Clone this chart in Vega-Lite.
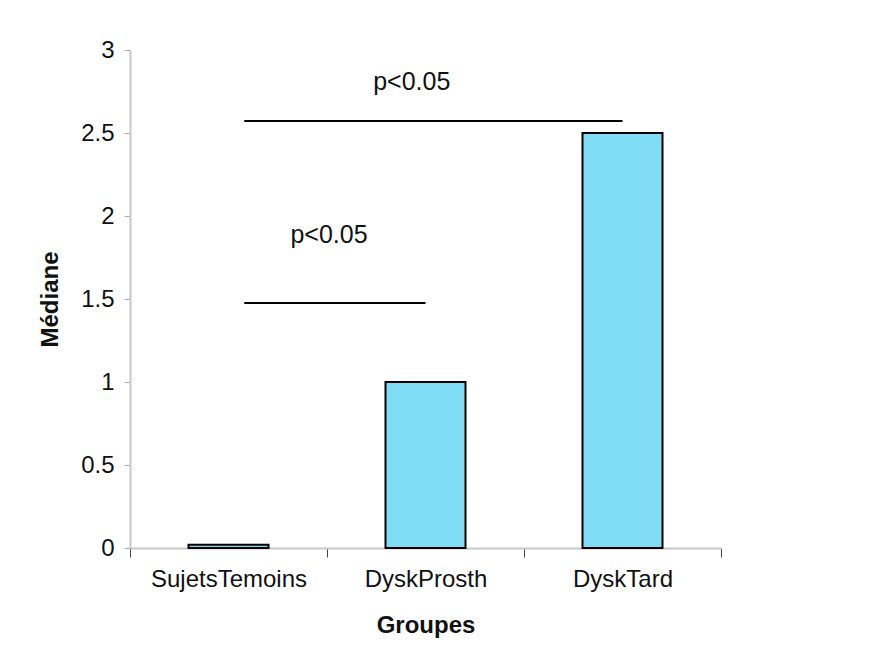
{
  "$schema": "https://vega.github.io/schema/vega-lite/v6.json",
  "width": 591,
  "height": 498,
  "autosize": {"type": "none"},
  "padding": {"left": 130, "top": 50, "right": 154, "bottom": 119},
  "background": "white",
  "config": {
    "view": {"stroke": null},
    "font": "Liberation Sans",
    "axis": {"labelFont": "Liberation Sans", "titleFont": "Liberation Sans", "labelColor": "#111", "titleColor": "#111"}
  },
  "layer": [
    {
      "data": {
        "values": [
          {"groupe": "SujetsTemoins", "mediane": 0.02},
          {"groupe": "DyskProsth", "mediane": 1},
          {"groupe": "DyskTard", "mediane": 2.5}
        ]
      },
      "mark": {"type": "bar", "size": 80, "fill": "#80DDF5", "stroke": "#000", "strokeWidth": 2},
      "encoding": {
        "x": {
          "field": "groupe",
          "type": "nominal",
          "sort": null,
          "title": "Groupes",
          "scale": {"paddingInner": 0, "paddingOuter": 0},
          "axis": {
            "labelAngle": 0,
            "labelFontSize": 24,
            "labelPadding": 10,
            "tickBand": "extent",
            "tickSize": 9,
            "tickColor": "#444",
            "domainColor": "#c8c8c8",
            "domainWidth": 2,
            "titleFontSize": 24,
            "titleFontWeight": "bold",
            "titlePadding": 22
          }
        },
        "y": {
          "field": "mediane",
          "type": "quantitative",
          "title": "Médiane",
          "scale": {"domain": [0, 3]},
          "axis": {
            "values": [0, 0.5, 1, 1.5, 2, 2.5, 3],
            "format": "~g",
            "grid": false,
            "labelFontSize": 24,
            "labelPadding": 10,
            "tickSize": 6,
            "tickColor": "#aaa",
            "domainColor": "#c8c8c8",
            "domainWidth": 2,
            "titleFontSize": 24,
            "titleFontWeight": "bold",
            "titlePadding": 18
          }
        }
      }
    },
    {
      "data": {
        "values": [
          {"debut": "SujetsTemoins", "fin": "DyskProsth", "niveau": 1.476},
          {"debut": "SujetsTemoins", "fin": "DyskTard", "niveau": 2.572}
        ]
      },
      "mark": {"type": "rule", "stroke": "#000", "strokeWidth": 2},
      "encoding": {
        "x": {"field": "debut", "type": "nominal", "sort": null, "bandPosition": 0.58},
        "x2": {"field": "fin", "bandPosition": 0.5},
        "y": {"field": "niveau", "type": "quantitative"}
      }
    },
    {
      "data": {"values": [{"groupe": "DyskProsth", "niveau": 2.807, "texte": "p<0.05"}]},
      "mark": {"type": "text", "fontSize": 25, "font": "Liberation Sans", "color": "#111", "baseline": "middle", "align": "center"},
      "encoding": {
        "x": {"field": "groupe", "type": "nominal", "sort": null, "bandPosition": 0.43},
        "y": {"field": "niveau", "type": "quantitative"},
        "text": {"field": "texte"}
      }
    },
    {
      "data": {"values": [{"groupe": "DyskProsth", "niveau": 1.886, "texte": "p<0.05"}]},
      "mark": {"type": "text", "fontSize": 25, "font": "Liberation Sans", "color": "#111", "baseline": "middle", "align": "center"},
      "encoding": {
        "x": {"field": "groupe", "type": "nominal", "sort": null, "bandPosition": 0.01},
        "y": {"field": "niveau", "type": "quantitative"},
        "text": {"field": "texte"}
      }
    }
  ]
}
